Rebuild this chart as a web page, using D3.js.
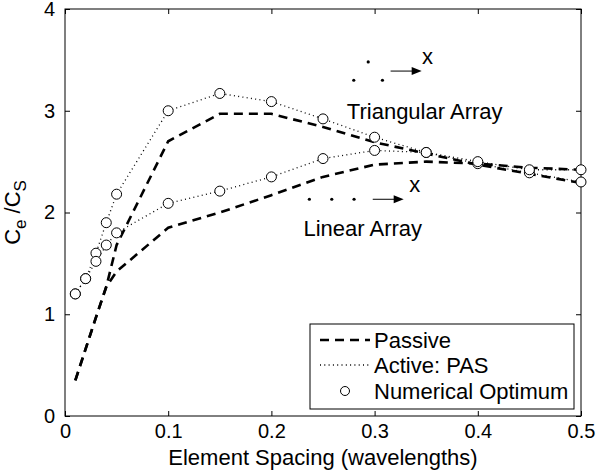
<!DOCTYPE html>
<html>
<head>
<meta charset="utf-8">
<script src="https://cdn.jsdelivr.net/npm/d3@7"></script>
<style>
  body { margin: 0; background: #fff; }
  text { font-family: "Liberation Sans", Arial, sans-serif; fill: #000; }
</style>
</head>
<body>
<div id="chart"></div>
<script>
// element spacing (wavelengths)
var spacing = [0.01, 0.02, 0.03, 0.04, 0.05, 0.1, 0.15, 0.2, 0.25, 0.3, 0.35, 0.4, 0.45, 0.5];

// passive (dashed)
var triPassive = [0.35, 0.66, 0.97, 1.27, 1.68, 2.70, 2.97, 2.97, 2.84, 2.69, 2.58, 2.47, 2.38, 2.29];
var linPassive = [0.35, 0.66, 0.97, 1.27, 1.42, 1.85, 2.00, 2.17, 2.35, 2.47, 2.50, 2.48, 2.44, 2.42];

// active: PAS (dotted)
var triActive = [1.20, 1.35, 1.60, 1.90, 2.18, 3.00, 3.17, 3.09, 2.92, 2.74, 2.59, 2.48, 2.39, 2.30];
var linActive = [1.20, 1.35, 1.52, 1.68, 1.80, 2.09, 2.21, 2.35, 2.53, 2.61, 2.59, 2.50, 2.42, 2.42];

// numerical optimum (circles)
var triOptimum = [1.20, 1.35, 1.60, 1.90, 2.18, 3.00, 3.17, 3.09, 2.92, 2.74, 2.59, 2.48, 2.39, 2.30];
var linOptimum = [1.20, 1.35, 1.52, 1.68, 1.80, 2.09, 2.21, 2.35, 2.53, 2.61, 2.59, 2.50, 2.42, 2.42];

var xTicks = [0, 0.1, 0.2, 0.3, 0.4, 0.5];
var yTicks = [0, 1, 2, 3, 4];
var legendLabels = ["Passive", "Active: PAS", "Numerical Optimum"];

var margin = { left: 65, right: 16, top: 9, bottom: 58 };
var W = 597, H = 474;
var width = W - margin.left - margin.right,
    height = H - margin.top - margin.bottom;

var svg = d3.select("#chart")
    .append("svg")
        .attr("width", W)
        .attr("height", H)
    .append("g")
        .attr("transform", "translate(" + margin.left + "," + margin.top + ")");

var x = d3.scaleLinear().domain([0, 0.5]).range([0, width]);
var y = d3.scaleLinear().domain([0, 4]).range([height, 0]);

// frame
svg.append("rect")
    .attr("width", width).attr("height", height)
    .attr("fill", "none").attr("stroke", "#000").attr("stroke-width", 1);

// axes with inward ticks
var tickLen = 5;
var xAxisCall = d3.axisBottom(x).tickValues(xTicks).tickSize(-tickLen).tickFormat(d3.format("~g")).tickPadding(tickLen + 3);
var yAxisCall = d3.axisLeft(y).tickValues(yTicks).tickSize(-tickLen).tickFormat(d3.format("d")).tickPadding(tickLen + 5);

var xAxis = svg.append("g").attr("transform", "translate(0," + height + ")").call(xAxisCall);
var yAxis = svg.append("g").call(yAxisCall);
svg.append("g").call(d3.axisTop(x).tickValues(xTicks).tickSize(-tickLen).tickFormat(""));
svg.append("g").attr("transform", "translate(" + width + ",0)")
    .call(d3.axisRight(y).tickValues(yTicks).tickSize(-tickLen).tickFormat(""));

svg.selectAll(".domain").remove();
svg.selectAll(".tick line").attr("stroke", "#000");
xAxis.selectAll("text").attr("font-size", "20px").attr("fill", "#000");
yAxis.selectAll("text").attr("font-size", "20px").attr("fill", "#000");

// axis labels
svg.append("text")
    .attr("x", width / 2)
    .attr("y", height + 49)
    .attr("font-size", "22px")
    .attr("text-anchor", "middle")
    .text("Element Spacing (wavelengths)");

var yl = svg.append("text")
    .attr("transform", "translate(-45," + (height / 2) + ") rotate(-90)")
    .attr("font-size", "22px")
    .attr("text-anchor", "middle")
    .attr("xml:space", "preserve");
yl.append("tspan").text("C");
yl.append("tspan").attr("font-size", "17px").attr("dy", 6).text("e");
yl.append("tspan").attr("dy", -6).attr("dx", 6).text("/C");
yl.append("tspan").attr("font-size", "17px").attr("dy", 6).text("S");

// curves
function pts(values) {
    return spacing.map(function(s, i) { return [s, values[i]]; });
}
var line = d3.line()
    .x(function(d) { return x(d[0]); })
    .y(function(d) { return y(d[1]); });

var dashed = { dash: "9,6", width: 2.6 };
var dotted = { dash: "1,3.3", width: 1.3 };

[[triActive, dotted], [linActive, dotted], [triPassive, dashed], [linPassive, dashed]].forEach(function(s) {
    svg.append("path")
        .datum(pts(s[0]))
        .attr("d", line)
        .attr("fill", "none")
        .attr("stroke", "#000")
        .attr("stroke-width", s[1].width)
        .attr("stroke-dasharray", s[1].dash);
});

var optimum = pts(triOptimum).concat(pts(linOptimum));
svg.append("g")
    .selectAll("circle")
    .data(optimum)
    .enter()
    .append("circle")
        .attr("cx", function(d) { return x(d[0]); })
        .attr("cy", function(d) { return y(d[1]); })
        .attr("r", 5)
        .attr("fill", "#fff")
        .attr("stroke", "#000")
        .attr("stroke-width", 1);

// array sketches
function arrow(x1, x2, yy) {
    svg.append("line")
        .attr("x1", x1).attr("x2", x2 - 8).attr("y1", yy).attr("y2", yy)
        .attr("stroke", "#000").attr("stroke-width", 1);
    svg.append("path")
        .attr("d", "M" + x2 + "," + yy + "L" + (x2 - 10) + "," + (yy - 4) + "L" + (x2 - 10) + "," + (yy + 4) + "Z")
        .attr("fill", "#000");
}
function dot(cx, cy) {
    svg.append("circle").attr("cx", cx).attr("cy", cy).attr("r", 1.6).attr("fill", "#000");
}

// triangular
dot(x(0.2938), y(3.48));
dot(x(0.2798), y(3.30));
dot(x(0.3076), y(3.30));
arrow(x(0.3155), x(0.3456), y(3.39));
svg.append("text").attr("x", x(0.3513)).attr("y", y(3.39) - 7)
    .attr("font-size", "22px").attr("text-anchor", "middle").text("x");
svg.append("text").attr("x", x(0.2731)).attr("y", y(2.92))
    .attr("font-size", "22px").text("Triangular Array");

// linear
dot(x(0.2368), y(2.13));
dot(x(0.2585), y(2.13));
dot(x(0.2801), y(2.13));
arrow(x(0.2982), x(0.3282), y(2.13));
svg.append("text").attr("x", x(0.3388)).attr("y", y(2.13) - 7)
    .attr("font-size", "22px").attr("text-anchor", "middle").text("x");
svg.append("text").attr("x", x(0.2311)).attr("y", y(1.77))
    .attr("font-size", "22px").text("Linear Array");

// legend
var lg = svg.append("g").attr("transform", "translate(" + (310 - margin.left) + "," + (324 - margin.top) + ")");
lg.append("rect").attr("width", 264).attr("height", 85)
    .attr("fill", "#fff").attr("stroke", "#000").attr("stroke-width", 1);
var rowY = [16, 41, 67];
lg.append("line").attr("x1", 10).attr("x2", 60).attr("y1", rowY[0]).attr("y2", rowY[0])
    .attr("stroke", "#000").attr("stroke-width", dashed.width).attr("stroke-dasharray", dashed.dash);
lg.append("line").attr("x1", 10).attr("x2", 60).attr("y1", rowY[1]).attr("y2", rowY[1])
    .attr("stroke", "#000").attr("stroke-width", dotted.width).attr("stroke-dasharray", dotted.dash);
lg.append("circle").attr("cx", 35).attr("cy", rowY[2]).attr("r", 4.5)
    .attr("fill", "#fff").attr("stroke", "#000");
lg.selectAll("text.lbl")
    .data(legendLabels)
    .enter()
    .append("text")
        .attr("class", "lbl")
        .attr("x", 64)
        .attr("y", function(d, i) { return rowY[i]; })
        .attr("dy", "0.36em")
        .attr("font-size", "22px")
        .text(function(d) { return d; });
</script>
</body>
</html>
